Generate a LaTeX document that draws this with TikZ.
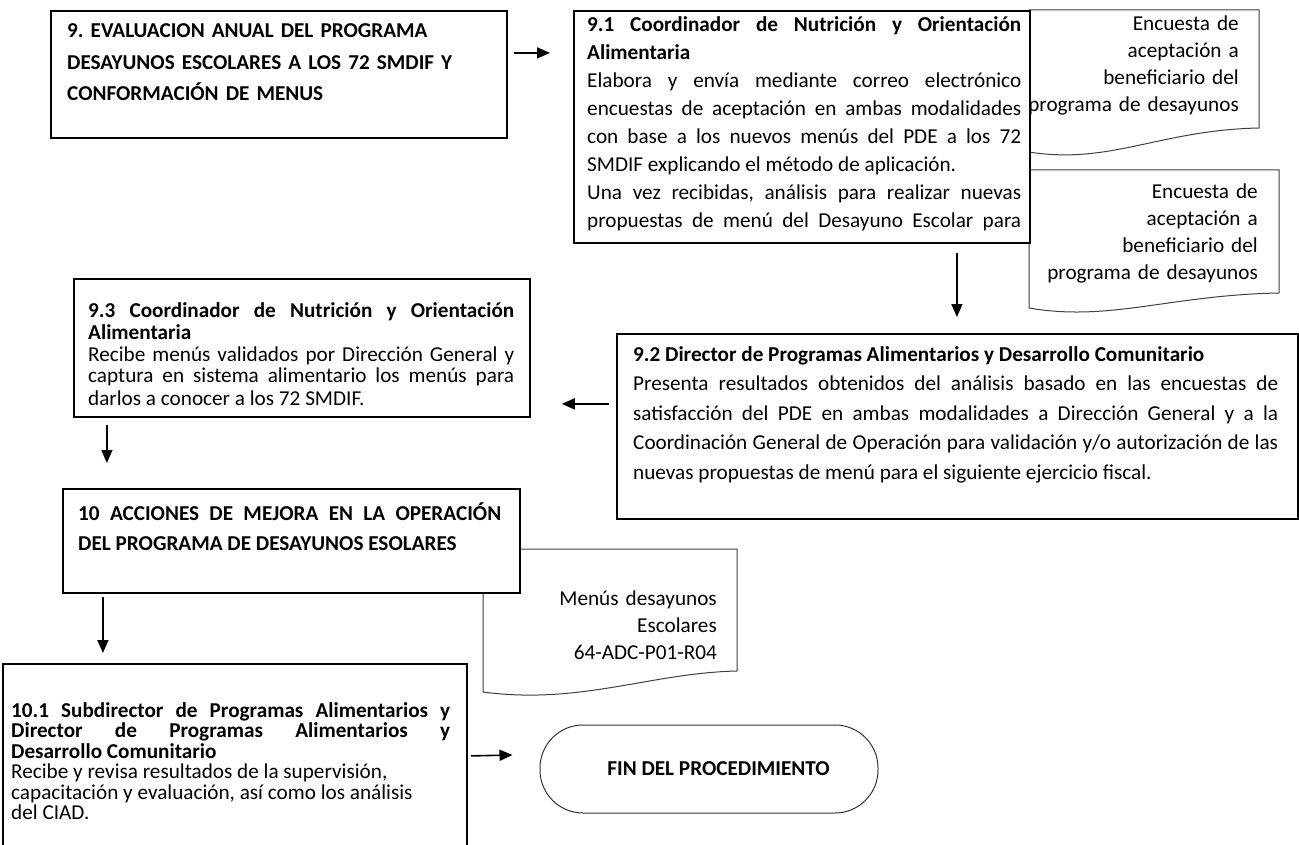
\documentclass[tikz,border=0pt]{standalone}
\usepackage{fontspec}
\setmainfont{Carlito}
\usetikzlibrary{arrows.meta}
\frenchspacing

\begin{document}
\begin{tikzpicture}[x=1pt, y=-1pt,
          box/.style={rectangle, draw, line width=1.8pt, fill=white, anchor=north west, inner sep=0pt},
          doc/.style={draw=black!75, line width=1pt, fill=white},
          txt/.style={anchor=base west, inner sep=0pt, align=justify},
          doctxt/.style={anchor=base east, inner sep=0pt, align=right, text width=240pt, font=\fontsize{21.2pt}{27pt}\selectfont},
          term/.style={rectangle, rounded corners=43pt, draw=black!80, line width=1pt, fill=white, font=\bfseries\fontsize{21.2pt}{26pt}\selectfont},
          flow/.style={-{Triangle[length=13pt, width=11pt]}, line width=1.6pt}
        ]
          \useasboundingbox (0,0) rectangle (1299,845);
          \fill[white] (0,0) rectangle (1299,845);
          % documentos
          \draw[doc] (1029,152) -- (1029,10) -- (1259,10) -- (1259,128) .. controls (1160,130) and (1110,165) .. (1029,152) -- cycle;
          \draw[doc] (1029,308) -- (1029,170) -- (1279,170) -- (1279,293) .. controls (1170,295) and (1110,322) .. (1029,308) -- cycle;
          \draw[doc] (483,692) -- (483,549) -- (737,549) -- (737,671) .. controls (650,673) and (580,705) .. (483,692) -- cycle;
          \node[doctxt] (d1) at (1239,31) {Encuesta de\\aceptación a\\beneficiario del\\programa de desayunos};
          \node[doctxt] (d2) at (1258,199) {Encuesta de\\aceptación a\\beneficiario del\\programa de desayunos};
          \node[doctxt] (d3) at (717,605) {Menús desayunos\\Escolares\\64-ADC-P01-R04};
          % cajas
          \node[box, minimum width=456pt, minimum height=127pt] (b9) at (50,10) {};
          \node[box, minimum width=456pt, minimum height=232pt] (b91) at (573,10) {};
          \node[box, minimum width=681pt, minimum height=185pt] (b92) at (616,333) {};
          \node[box, minimum width=456pt, minimum height=138pt] (b93) at (73,278) {};
          \node[box, minimum width=457pt, minimum height=104pt] (b10) at (62,488) {};
          \node[box, minimum width=464pt, minimum height=217pt] (b101) at (2,663) {};
          \node[term, minimum width=338pt, minimum height=88pt] (fin) at (709,769) {\hspace*{19pt}FIN DEL PROCEDIMIENTO};
          % textos
          \node[txt, text width=440pt, align=left, font=\bfseries\fontsize{21.2pt}{31.5pt}\selectfont] (t9) at (67,38)
            {9. EVALUACION ANUAL DEL PROGRAMA\\DESAYUNOS ESCOLARES A LOS 72 SMDIF Y\\CONFORMACIÓN DE MENUS};
          \node[txt, text width=434pt, font=\fontsize{21.2pt}{28pt}\selectfont] (t91) at (587,32)
            {{\bfseries 9.1 Coordinador de Nutrición y Orientación\linebreak Alimentaria\par}
             Elabora y envía mediante correo electrónico\linebreak encuestas de aceptación en ambas modalidades\linebreak
             con base a los nuevos menús del PDE a los 72\linebreak SMDIF explicando el método de aplicación.\par
             Una vez recibidas, análisis para realizar nuevas\linebreak propuestas de menú del Desayuno Escolar para\parfillskip=0pt\par};
          \node[txt, text width=645pt, font=\fontsize{21.2pt}{29.5pt}\selectfont] (t92) at (633,361)
            {{\bfseries 9.2 Director de Programas Alimentarios y Desarrollo Comunitario\par}
             Presenta resultados obtenidos del análisis basado en las encuestas de\linebreak
             satisfacción del PDE en ambas modalidades a Dirección General y a la\linebreak
             Coordinación General de Operación para validación y/o autorización de las\linebreak
             nuevas propuestas de menú para el siguiente ejercicio fiscal.};
          \node[txt, text width=426pt, font=\fontsize{21.2pt}{22pt}\selectfont] (t93) at (88,317)
            {{\bfseries 9.3 Coordinador de Nutrición y Orientación\linebreak Alimentaria\par}
             Recibe menús validados por Dirección General y\linebreak captura en sistema alimentario los menús para\linebreak
             darlos a conocer a los 72 SMDIF.};
          \node[txt, text width=423pt, font=\bfseries\fontsize{21.2pt}{30pt}\selectfont] (t10) at (78,520)
            {10 ACCIONES DE MEJORA EN LA OPERACIÓN\linebreak DEL PROGRAMA DE DESAYUNOS ESOLARES};
          \node[txt, text width=439pt, font=\fontsize{21.2pt}{20.5pt}\selectfont] (t101) at (11,717)
            {{\bfseries 10.1 Subdirector de Programas Alimentarios y\linebreak Director de Programas Alimentarios y\linebreak
             Desarrollo Comunitario\par}
             Recibe y revisa resultados de la supervisión,\\ capacitación y evaluación, así como los análisis\\ del CIAD.};
          % flechas
          \draw[flow] ([xshift=6pt, yshift=21.5pt]b9.east) -- ([xshift=-23pt, yshift=74pt]b91.west);
          \draw[flow] ([xshift=155pt, yshift=-9pt]b91.south) -- ([xshift=-0.5pt, yshift=16pt]b92.north);
          \draw[flow] ([xshift=-7pt, yshift=22.5pt]b92.west) -- ([xshift=31pt, yshift=-56pt]b93.east);
          \draw[flow] ([xshift=-195pt, yshift=-7pt]b93.south) -- ([xshift=-184.5pt, yshift=25pt]b10.north);
          \draw[flow] ([xshift=-188.5pt, yshift=-3pt]b10.south) -- ([xshift=-132pt, yshift=10pt]b101.north);
          \draw[flow] ([xshift=3pt, yshift=16.5pt]b101.east) -- ([xshift=-27pt, yshift=14pt]fin.west);
        \end{tikzpicture}
\end{document}
